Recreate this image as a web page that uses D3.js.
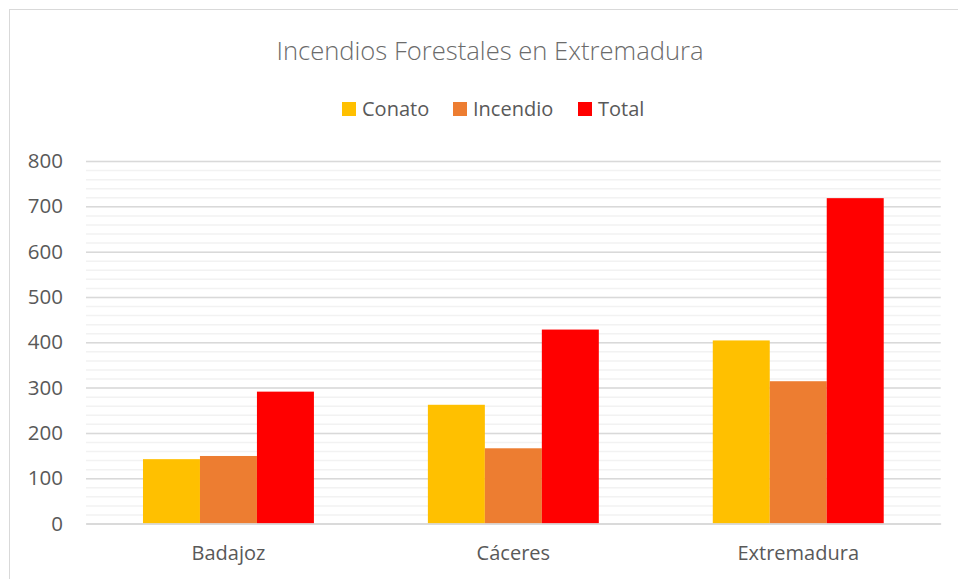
<!DOCTYPE html>
<html>
<head>
<meta charset="utf-8">
<script src="https://cdn.jsdelivr.net/npm/d3@7"></script>
<style>
  body { margin: 0; background: #fff; }
  text { font-family: "Open Sans", sans-serif; fill: #595959; }
</style>
</head>
<body>
<script>
var categories = ["Badajoz", "Cáceres", "Extremadura"];
var series = ["Conato", "Incendio", "Total"];
var conato = [142, 262, 404];
var incendio = [149, 166, 314];
var total = [291, 428, 718];
var yTicks = [0, 100, 200, 300, 400, 500, 600, 700, 800];
var colors = ["#FFC000", "#ED7D31", "#FF0000"];

var w = 958;
var h = 579;
var plotLeft = 86, plotRight = 940.7, plotTop = 161, plotBottom = 523.5;

var svg = d3.select("body")
            .append("svg")
            .attr("width", w)
            .attr("height", h);

// chart frame (cut off at right/bottom like the original)
svg.append("rect")
   .attr("x", 9.5).attr("y", 9.5)
   .attr("width", 1000).attr("height", 1000)
   .attr("fill", "none")
   .attr("stroke", "#D9D9D9");

var values = [conato, incendio, total];

var x0 = d3.scaleBand()
           .domain(categories)
           .range([plotLeft, plotRight]);

var x1 = d3.scaleBand()
           .domain(series)
           .range([0, x0.bandwidth()])
           .paddingOuter(1);

var y = d3.scaleLinear()
          .domain([0, 800])
          .range([plotBottom, plotTop]);

// minor gridlines
svg.append("g")
   .attr("transform", "translate(" + plotLeft + ",0)")
   .call(d3.axisLeft(y).tickValues(d3.range(0, 801, 20)).tickSize(-(plotRight - plotLeft)).tickFormat(""))
   .call(function(g) {
     g.select(".domain").remove();
     g.selectAll("line").attr("stroke", "#F2F2F2").attr("stroke-width", 1.5);
   });

// major gridlines
svg.append("g")
   .attr("transform", "translate(" + plotLeft + ",0)")
   .call(d3.axisLeft(y).tickValues(yTicks).tickSize(-(plotRight - plotLeft)).tickFormat(""))
   .call(function(g) {
     g.select(".domain").remove();
     g.selectAll("line").attr("stroke", "#D9D9D9").attr("stroke-width", 1.5);
   });

// y axis labels
svg.append("g")
   .attr("transform", "translate(" + plotLeft + ",0)")
   .call(d3.axisLeft(y).tickValues(yTicks).tickSize(0).tickPadding(23))
   .call(function(g) {
     g.select(".domain").remove();
     g.selectAll("text").attr("font-size", 20.5).attr("fill", "#595959")
      .attr("font-family", "Open Sans, sans-serif");
   });

// bars
var groups = svg.append("g")
   .selectAll("g")
   .data(categories)
   .enter()
   .append("g")
     .attr("transform", function(d) { return "translate(" + x0(d) + ",0)"; });

groups.selectAll("rect")
   .data(function(d, ci) { return series.map(function(s, si) { return {s: s, v: values[si][ci], c: colors[si]}; }); })
   .enter()
   .append("rect")
     .attr("x", function(d) { return x1(d.s); })
     .attr("width", x1.bandwidth())
     .attr("y", function(d) { return y(d.v); })
     .attr("height", function(d) { return y(0) - y(d.v); })
     .attr("fill", function(d) { return d.c; });

// x axis
svg.append("g")
   .attr("transform", "translate(0," + plotBottom + ")")
   .call(d3.axisBottom(x0).tickSize(0).tickPadding(22))
   .call(function(g) {
     g.select(".domain").attr("stroke", "#D9D9D9").attr("stroke-width", 1.5);
     g.selectAll("text").attr("font-size", 20).attr("fill", "#595959")
      .attr("font-family", "Open Sans, sans-serif");
   });

// title
svg.append("text")
   .attr("x", 490).attr("y", 60)
   .attr("text-anchor", "middle")
   .attr("font-size", 25.6)
   .attr("font-weight", 300)
   .style("fill", "#6b6b6b")
   .text("Incendios Forestales en Extremadura");

// legend
var legendX = [342, 453, 578];
var legend = svg.append("g")
   .selectAll("g")
   .data(series)
   .enter()
   .append("g")
     .attr("transform", function(d, i) { return "translate(" + legendX[i] + ",102)"; });

legend.append("rect")
   .attr("width", 14).attr("height", 14)
   .attr("fill", function(d, i) { return colors[i]; });

legend.append("text")
   .attr("x", 20).attr("y", 13.5)
   .attr("font-size", 20)
   .text(function(d) { return d; });
</script>
</body>
</html>
